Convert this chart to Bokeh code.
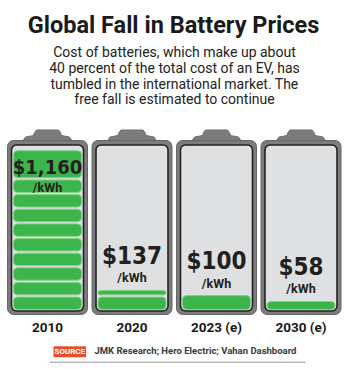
import math
from bokeh.plotting import figure
from bokeh.models import Range1d, Label
from bokeh.core.properties import value
from bokeh.embed import file_html
from bokeh.resources import INLINE

# ---- data ----
years = ["2010", "2020", "2023 (e)", "2030 (e)"]
prices = [1160, 137, 100, 58]          # $/kWh
price_labels = ["$1,160", "$137", "$100", "$58"]
capacity = 1160                         # full battery = 2010 price
n_cells = 11                            # cells in a full battery

title = "Global Fall in Battery Prices"
subtitle = [
    "Cost of batteries, which make up about",
    "40 percent of the total cost of an EV, has",
    "tumbled in the international market. The",
    "free fall is estimated to continue",
]
source_tag = "SOURCE"
source_text = "JMK Research; Hero Electric; Vahan Dashboard"

# ---- layout helpers (pixel layout -> data units) ----
W, H = 350, 369
BASE_PX, TOP_PX = 309, 148
K = capacity / (BASE_PX - TOP_PX)       # $ per pixel
STEP = 84.5                             # px between battery centres
C0 = 47                                 # px centre of first battery
SH = 0.4                                # text baseline correction (em)


def Y(px):
    return (BASE_PX - px) * K


def XP(px):
    return (px - C0) / STEP


def DX(px):
    return px / STEP


def base(px, size):
    """screen-y (from bottom) for a text whose baseline should sit at px."""
    return H - (px - SH * size)


p = figure(width=W, height=H, output_backend="svg", toolbar_location=None,
           x_range=Range1d(XP(0), XP(W)), y_range=Range1d(Y(H), Y(0)),
           x_axis_type=None, y_axis_type=None, min_border=0)
p.grid.visible = False
p.outline_line_color = None
p.background_fill_color = "white"
p.border_fill_color = "white"

idx = list(range(len(prices)))

# battery caps
for i in idx:
    xs = [i + DX(v) for v in (-13, -11, 11, 13, 14, 22, 25, -25, -22, -14)]
    ys = [Y(v) for v in (132, 129.5, 129.5, 132, 135, 136.5, 141, 141, 136.5, 135)]
    p.patch(xs, ys, fill_color="#7c7c7c", line_color="#6c6c6c", line_width=1)

# outer frame
p.quad(left=[i - DX(40) for i in idx], right=[i + DX(40) for i in idx],
       top=[Y(140)] * 4, bottom=[Y(314)] * 4,
       fill_color="#7c7c7c", line_color="#666666", line_width=1, border_radius=6)
# inner panel
p.quad(left=[i - DX(36) for i in idx], right=[i + DX(36) for i in idx],
       top=[Y(144.5)] * 4, bottom=[Y(310.5)] * 4,
       fill_color="#dfe0e2", line_color="#222222", line_width=1.6, border_radius=5)

# cells
unit = capacity / n_cells
gap = 2.2 * K
L, R, T, B = [], [], [], []
for i, v in enumerate(prices):
    n_full = int(math.floor(v / unit + 1e-9))
    cells = [[j * unit, (j + 1) * unit - gap] for j in range(n_full)]
    if v - n_full * unit > 1e-6:
        cells.append([n_full * unit, v])
    if n_full >= n_cells and len(cells) >= 2:   # merge top two cells of a full battery
        top = cells.pop()
        cells[-1][1] = top[1]
    for b, t in cells:
        L.append(i - DX(34)); R.append(i + DX(34)); B.append(b); T.append(t)
p.quad(left=L, right=R, top=T, bottom=B, fill_color="#3cb54a",
       line_color="#86d08a", line_width=1, border_radius=4)

# price labels
py, ky, sizes = [], [], []
for v, lab in zip(prices, price_labels):
    s = 20 if len(lab) > 4 else 24
    sizes.append(f"{s}px")
    if v >= capacity:
        py.append(Y(174 - SH * s)); ky.append(Y(192 - SH * 12.5))
    else:
        py.append(v + (25 + SH * s) * K); ky.append(v + (7.5 + SH * 12.5) * K)
p.text(x=idx, y=py, text=price_labels, text_align="center", text_baseline="alphabetic",
       text_font=value("DejaVu Sans Condensed"), text_font_style="bold",
       text_font_size=sizes, text_color="#231f20")
p.text(x=idx, y=ky, text=["/kWh"] * 4, text_align="center", text_baseline="alphabetic",
       text_font=value("Roboto"), text_font_style="bold",
       text_font_size="12.5px", text_color="#231f20")

# year labels
p.text(x=idx, y=[Y(332 - SH * 13.5)] * 4, text=years, text_align="center",
       text_baseline="alphabetic", text_font=value("Roboto"), text_font_style="bold",
       text_font_size="13.5px", text_color="#1a1a1a")

# title and subtitle
p.add_layout(Label(x=173, y=base(34, 23.5), x_units="screen", y_units="screen", text=title,
                   text_align="center", text_baseline="alphabetic",
                   text_font="Roboto", text_font_style="bold", text_font_size="23.5px",
                   text_color="#1a1a1a"))
for k, line in enumerate(subtitle):
    p.add_layout(Label(x=174, y=base(57 + 15.8 * k, 14), x_units="screen", y_units="screen",
                       text=line, text_align="center", text_baseline="alphabetic",
                       text_font="Roboto", text_font_size="14px", text_color="#222222"))

# source
p.add_layout(Label(x=53, y=base(354.5, 8), x_units="screen", y_units="screen", text=source_tag,
                   text_align="left", text_baseline="alphabetic",
                   text_font="Roboto", text_font_style="bold", text_font_size="8px",
                   text_color="white", background_fill_color="#e8502a",
                   padding=1))
p.add_layout(Label(x=94, y=base(354, 9.5), x_units="screen", y_units="screen", text=source_text,
                   text_align="left", text_baseline="alphabetic",
                   text_font="Roboto", text_font_style="bold", text_font_size="9.5px",
                   text_color="#3a3a3a"))
p.quad(left=[XP(49)], right=[XP(305)], top=[Y(361)], bottom=[Y(362.6)],
       fill_color="#b8b8b8", line_color=None)

open("out.html", "w").write(file_html(p, INLINE))
